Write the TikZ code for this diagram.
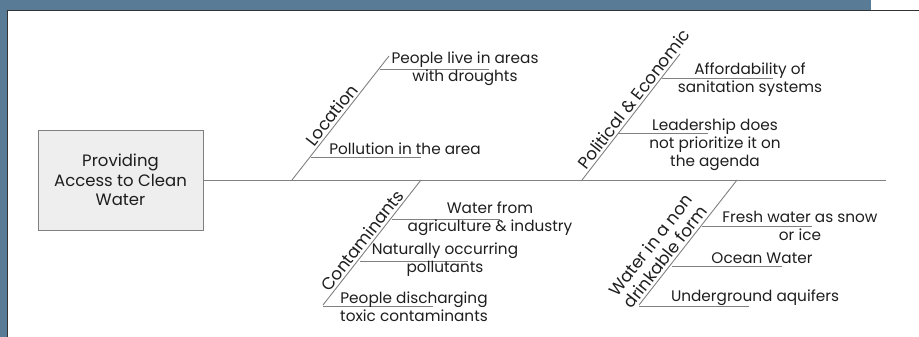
\documentclass[tikz,border=0pt]{standalone}
\usepackage{fontspec}
\setmainfont{Poppins}
\usetikzlibrary{calc}
\definecolor{frameblue}{HTML}{5A7B95}
\definecolor{bonegray}{HTML}{808080}
\definecolor{headfill}{HTML}{EEEEEE}
\definecolor{inkdark}{HTML}{1E1E1E}

\begin{document}
\begin{tikzpicture}[x=1pt, y=-1pt,
    bone/.style={bonegray, line width=0.9pt},
    rib/.style={bonegray, line width=0.8pt},
    cause/.style={font=\fontsize{15.3}{18}\selectfont, text=inkdark, align=center, inner sep=0pt},
    catlabel/.style={font=\fontsize{17}{19}\selectfont, text=inkdark, sloped, anchor=south, align=center, inner sep=2pt}]

  % Frame
  \useasboundingbox (0,0) rectangle (919,337);
  \fill[frameblue] (0,0) rectangle (871,11);
  \fill[frameblue] (0,0) rectangle (7,337);
  \draw[black!80, line width=1pt] (7,337) -- (7,11) -- (919,11);

  % Head and spine
  \node[draw=gray, fill=headfill, minimum width=165pt, minimum height=100pt,
        font=\fontsize{16.5}{19.5}\selectfont, text=inkdark, align=center] (effect) at (120.5,180)
        {Providing\\Access to Clean\\Water};
  \coordinate (tail) at (886,180);
  \draw[bone] (effect.east) -- (tail);

  % Location
  \coordinate (locBase) at (292,180);
  \coordinate (locTop) at (389,56);
  \draw[bone] (locBase) -- node[catlabel, pos=0.48] {Location} (locTop);
  \coordinate (drought) at (380,69);
  \coordinate (pollute) at (311,157);
  \draw[rib] (drought) -- ++(109,0);
  \draw[rib] (pollute) -- ++(110,0);
  \node[cause] (droughtTxt) at (465,69) {People live in areas\\with droughts};
  \node[cause] (polluteTxt) at (405,149) {Pollution in the area};

  % Political & Economic
  \coordinate (polBase) at (582,180);
  \coordinate (polTop) at (680,54);
  \draw[bone] (polBase) -- node[catlabel, pos=0.6] {Political \& Economic} (polTop);
  \coordinate (afford) at (662,78);
  \coordinate (leader) at (618,133);
  \draw[rib] (afford) -- ++(111,0);
  \draw[rib] (leader) -- ++(90,0);
  \node[cause] (affordTxt) at (750,80) {Affordability of\\sanitation systems};
  \node[cause] (leaderTxt) at (715,145) {Leadership does\\not prioritize it on\\the agenda};

  % Contaminants
  \coordinate (conTop) at (421,180);
  \coordinate (conBase) at (323,305);
  \draw[bone] (conBase) -- node[catlabel, pos=0.47] {Contaminants} (conTop);
  \coordinate (farm) at (392,219);
  \coordinate (natural) at (360,261);
  \coordinate (toxic) at (323,306);
  \draw[rib] (farm) -- ++(108,0);
  \draw[rib] (natural) -- ++(108,0);
  \draw[rib] (toxic) -- ++(110,0);
  \node[cause] (farmTxt) at (490,219) {Water from\\agriculture \& industry};
  \node[cause] (naturalTxt) at (445,260) {Naturally occurring\\pollutants};
  \node[cause] (toxicTxt) at (414,307) {People discharging\\toxic contaminants};

  % Water in a non drinkable form
  \coordinate (wetTop) at (737,180);
  \coordinate (wetBase) at (639,305);
  \draw[bone] (wetBase) -- node[catlabel, pos=0.34] {Water in a non\\drinkable form} (wetTop);
  \coordinate (snow) at (702,226);
  \coordinate (ocean) at (672,266);
  \coordinate (aquifer) at (639,306);
  \draw[rib] (snow) -- ++(110,0);
  \draw[rib] (ocean) -- ++(110,0);
  \draw[rib] (aquifer) -- ++(110,0);
  \node[cause] (snowTxt) at (800,226) {Fresh water as snow\\or ice};
  \node[cause] (oceanTxt) at (762,258) {Ocean Water};
  \node[cause] (aquiferTxt) at (755,298) {Underground aquifers};
\end{tikzpicture}
\end{document}
